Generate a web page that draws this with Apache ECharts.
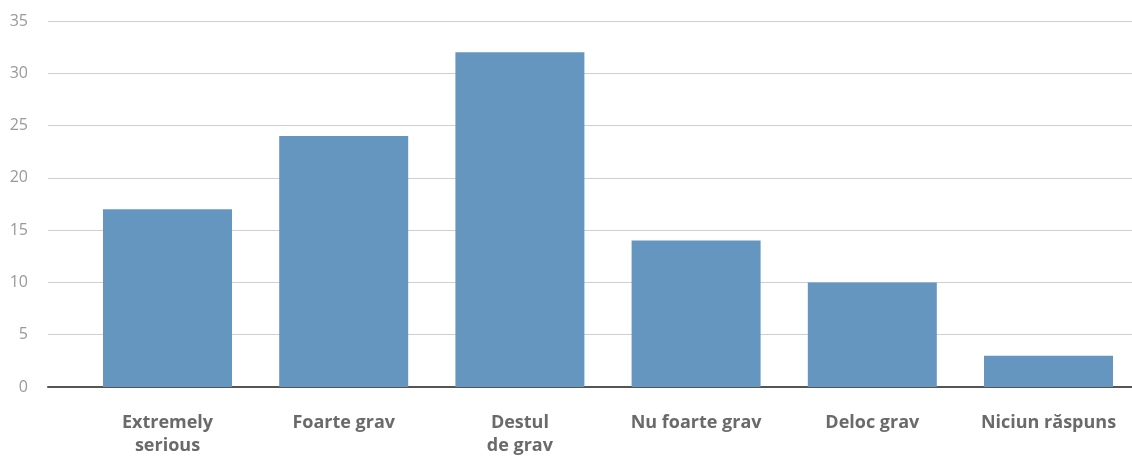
<!DOCTYPE html>
<html>
<head>
<meta charset="utf-8">
<script src="https://cdn.jsdelivr.net/npm/echarts@6/dist/echarts.min.js"></script>
<style>
  html, body { margin: 0; padding: 0; background: #fff; }
  #chart { width: 1132px; height: 457px; }
</style>
</head>
<body>
<div id="chart"></div>
<script>
// Survey answers and their shares (%)
const categories = ['Extremely\nserious', 'Foarte grav', 'Destul\nde grav', 'Nu foarte grav', 'Deloc grav', 'Niciun răspuns'];
const values = [17, 24, 32, 14, 10, 3];
const yTicks = { min: 0, max: 35, interval: 5 };

const chart = echarts.init(document.getElementById('chart'));
chart.setOption({
  animation: false,
  grid: [
    // grid 0: value scale, gridlines and baseline
    { left: 48, right: 0, top: 21, bottom: 70 },
    // grid 1: bars centred on the ticks (first to last category)
    { left: 167.5, right: 83.5, top: 21, bottom: 70 }
  ],
  xAxis: [
    {
      gridIndex: 0, type: 'category', data: [''],
      axisLine: { show: true, lineStyle: { color: '#555', width: 2 } },
      axisTick: { show: false }, axisLabel: { show: false }
    },
    {
      gridIndex: 1, type: 'category', data: categories, boundaryGap: false,
      axisLine: { show: false }, axisTick: { show: false },
      axisLabel: {
        margin: 24, color: '#6a6a6a', fontSize: 18, fontWeight: 'bold',
        fontFamily: 'Open Sans', lineHeight: 23, interval: 0
      }
    }
  ],
  yAxis: [
    {
      gridIndex: 0, type: 'value', min: yTicks.min, max: yTicks.max, interval: yTicks.interval,
      axisLine: { show: false }, axisTick: { show: false },
      axisLabel: { margin: 20, color: '#999', fontSize: 16, fontFamily: 'Open Sans' },
      splitLine: { lineStyle: { color: '#cfcfcf', width: 1 } }
    },
    {
      gridIndex: 1, type: 'value', min: yTicks.min, max: yTicks.max, interval: yTicks.interval,
      show: false, splitLine: { show: false }
    }
  ],
  series: [{
    type: 'bar', xAxisIndex: 1, yAxisIndex: 1,
    data: values, barWidth: 129, clip: false,
    itemStyle: { color: '#6596c0' },
    z: 1
  }]
});
</script>
</body>
</html>
